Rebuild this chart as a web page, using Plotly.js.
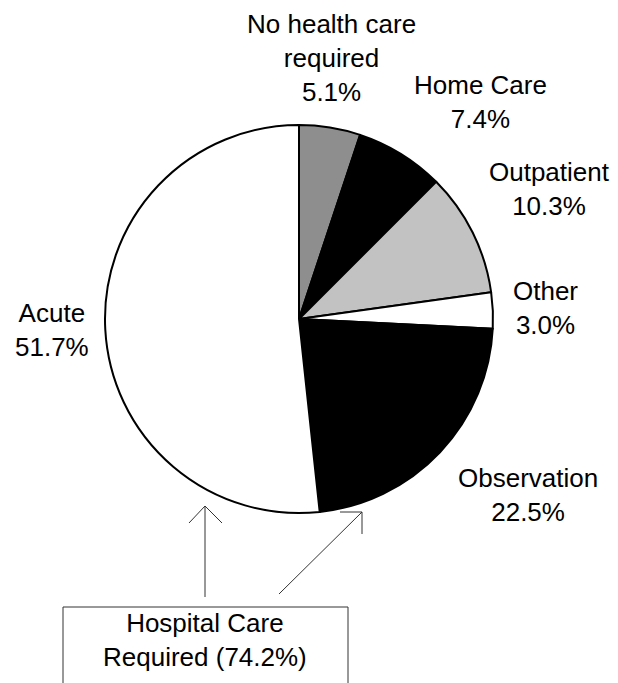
<!DOCTYPE html>
<html>
<head>
<meta charset="utf-8">
<script src="https://cdn.plot.ly/plotly-3.0.1.min.js"></script>
<style>html,body{margin:0;padding:0;background:#fff;}#chart{width:618px;height:683px;}</style>
</head>
<body>
<div id="chart"></div>
<script>
// Data
const categories = ["No health care<br>required", "Home Care", "Outpatient", "Other", "Observation", "Acute"];
const shares = [5.1, 7.4, 10.3, 3.0, 22.5, 51.7];
const sliceColors = ["#8e8e8e", "#000000", "#c2c2c2", "#ffffff", "#000000", "#ffffff"];
const hospitalLabel = "Hospital Care<br>Required";
const hospitalShare = 74.2;

const W = 618, H = 683;
const px = (x) => x / W;
const py = (y) => 1 - y / H;

// pie geometry (pixels)
const cx = 299, cy = 319, r = 194;

// label centre positions (pixels)
const labelPos = [[332, 58], [480, 102], [549, 189], [545, 308], [528, 495], [52, 330]];

const fontFam = '"Liberation Sans", Arial, Helvetica, sans-serif';

const annotations = categories.map((c, i) => ({
  text: c + "<br>" + shares[i].toFixed(1) + "%",
  x: px(labelPos[i][0]), y: py(labelPos[i][1]),
  xref: "paper", yref: "paper", xanchor: "center", yanchor: "middle",
  showarrow: false, align: "center",
  font: {family: fontFam, size: 26, color: "#000"}
}));
annotations.push({
  text: hospitalLabel + " (" + hospitalShare.toFixed(1) + "%)",
  x: px(205), y: py(640), xref: "paper", yref: "paper",
  xanchor: "center", yanchor: "middle", showarrow: false, align: "center",
  font: {family: fontFam, size: 26, color: "#000"}
});

const ln = (x0, y0, x1, y1, w, col) => ({
  type: "line", xref: "paper", yref: "paper",
  x0: px(x0), y0: py(y0), x1: px(x1), y1: py(y1),
  line: {color: col || "#333", width: w || 1}
});

const shapes = [
  // box
  {type: "rect", xref: "paper", yref: "paper", x0: px(63), x1: px(348), y0: py(607), y1: py(720),
   line: {color: "#333", width: 1}, fillcolor: "rgba(0,0,0,0)"},
  // left arrow
  ln(205, 597, 205, 506), ln(205, 506, 189, 523), ln(205, 506, 222, 523),
  // right arrow
  ln(279, 594, 362, 512), ln(362, 512, 340, 512), ln(362, 512, 362, 534)
];

const data = [{
  type: "pie",
  labels: categories,
  values: shares,
  sort: false,
  direction: "clockwise",
  rotation: 0,
  textinfo: "none",
  hoverinfo: "skip",
  marker: {colors: sliceColors, line: {color: "#000", width: 2}},
  domain: {x: [px(cx - r), px(cx + r)], y: [py(cy + r), py(cy - r)]}
}];

const layout = {
  width: W, height: H,
  margin: {l: 0, r: 0, t: 0, b: 0},
  paper_bgcolor: "#fff",
  showlegend: false,
  annotations: annotations,
  shapes: shapes,
  font: {family: fontFam}
};

Plotly.newPlot("chart", data, layout, {displayModeBar: false, staticPlot: true});
</script>
</body>
</html>
